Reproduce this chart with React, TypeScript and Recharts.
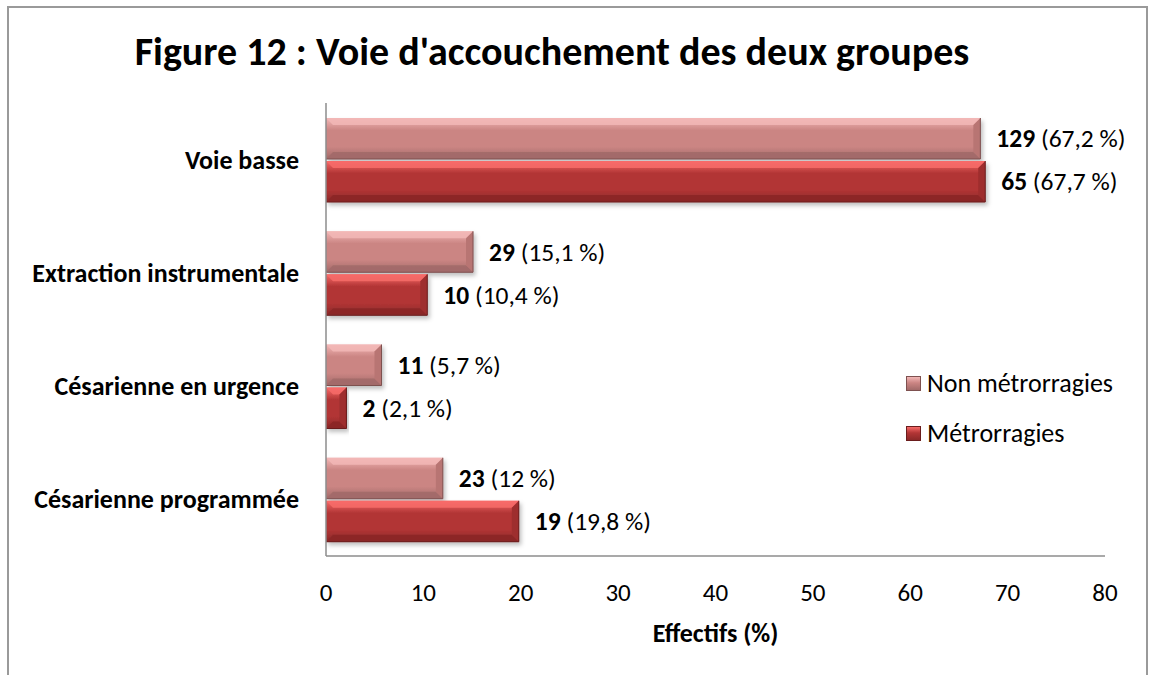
import React from "react";
import { BarChart, Bar, XAxis, YAxis, LabelList } from "recharts";

const categories = ["Voie basse", "Extraction instrumentale", "Césarienne en urgence", "Césarienne programmée"];
const nonMetroCounts = [129, 29, 11, 23];
const nonMetroPct = [67.2, 15.1, 5.7, 12];
const metroCounts = [65, 10, 2, 19];
const metroPct = [67.7, 10.4, 2.1, 19.8];
const xTicks = [0, 10, 20, 30, 40, 50, 60, 70, 80];
const seriesNames = ["Non métrorragies", "Métrorragies"];

const data = categories.map((name, i) => ({
  name,
  nonMetro: nonMetroPct[i],
  metro: metroPct[i],
}));

const FONT = "Carlito, Lato, 'Open Sans', sans-serif";

const palettes: Record<string, { top: string; main: string; bottom: string; edge: string; side: string }> = {
  nonMetro: { top: "#F2B7B6", main: "#CB8583", bottom: "#A26A69", edge: "#7E5150", side: "#B87573" },
  metro: { top: "#F76B69", main: "#B23535", bottom: "#8B2828", edge: "#6A1D1D", side: "#9E2E2E" },
};

const fmt = (v: number) => String(v).replace(".", ",");

function makeShape(key: string) {
  return (props: any) => {
    const { x, y, width, height } = props;
    if (!width || width <= 0) return <g />;
    const p = palettes[key];
    const b = Math.min(7, width / 2);
    return (
      <g filter="url(#barShadow)">
        <rect x={x} y={y} width={width} height={height} fill={`url(#grad-${key})`} />
        <polygon points={`${x},${y} ${x + width},${y} ${x + width - b},${y + b} ${x + b},${y + b}`} fill={p.top} opacity={0.85} />
        <polygon points={`${x},${y + height} ${x + width},${y + height} ${x + width - b},${y + height - b} ${x + b},${y + height - b}`} fill={p.bottom} opacity={0.9} />
        <polygon points={`${x + width - b},${y + b} ${x + width},${y} ${x + width},${y + height} ${x + width - b},${y + height - b}`} fill={p.side} />
        <line x1={x} y1={y + height} x2={x + width} y2={y + height} stroke={p.edge} strokeWidth={1} />
        <line x1={x + width} y1={y} x2={x + width} y2={y + height} stroke={p.edge} strokeWidth={1} />
      </g>
    );
  };
}

function makeLabel(counts: number[], pcts: number[]) {
  return (props: any) => {
    const { x, y, width, height, index } = props;
    return (
      <text x={x + width + 16} y={y + height / 2} dy="0.35em" fontFamily={FONT} fontSize={25.5} fill="#000">
        <tspan fontWeight="bold">{counts[index]}</tspan>
        <tspan> ({fmt(pcts[index])} %)</tspan>
      </text>
    );
  };
}

const XTick = (props: any) => {
  const { x, y, payload } = props;
  return (
    <text x={x} y={y} dy="0.35em" textAnchor="middle" fontFamily={FONT} fontSize={25} fill="#000">
      {payload.value}
    </text>
  );
};

const YTick = (props: any) => {
  const { x, y, payload } = props;
  return (
    <text x={x} y={y} dy="0.35em" textAnchor="end" fontFamily={FONT} fontSize={26} fontWeight="bold" fill="#000">
      {payload.value}
    </text>
  );
};

export default function App() {
  return (
    <div style={{ position: "absolute", left: 0, top: 0, width: 1149, height: 675, background: "#fff", overflow: "hidden" }}>
      <div
        style={{
          position: "absolute",
          left: 7,
          top: 6,
          width: 1137,
          height: 700,
          borderTop: "2px solid #9a9a9a",
          borderLeft: "2px solid #9a9a9a",
          borderRight: "2px solid #9a9a9a",
        }}
      />
      <div
        style={{
          position: "absolute",
          left: 0,
          top: 27,
          width: 1104,
          textAlign: "center",
          fontFamily: FONT,
          fontWeight: "bold",
          fontSize: 40,
          lineHeight: "50px",
          color: "#000",
          whiteSpace: "nowrap",
        }}
      >
        Figure 12 : Voie d'accouchement des deux groupes
      </div>
      <div style={{ position: "absolute", left: 0, top: 0 }}>
        <BarChart
          width={1149}
          height={675}
          data={data}
          layout="vertical"
          margin={{ top: 103, right: 44, bottom: 89, left: 26 }}
          barSize={41}
          barGap={2}
        >
          <defs>
            {Object.keys(palettes).map((k) => (
              <linearGradient key={k} id={`grad-${k}`} x1="0" y1="0" x2="0" y2="1">
                <stop offset="0" stopColor={palettes[k].top} />
                <stop offset="0.3" stopColor={palettes[k].main} />
                <stop offset="0.7" stopColor={palettes[k].main} />
                <stop offset="1" stopColor={palettes[k].bottom} />
              </linearGradient>
            ))}
            <filter id="barShadow" x="-5%" y="-20%" width="115%" height="160%">
              <feDropShadow dx="2" dy="3" stdDeviation="2" floodColor="#000" floodOpacity="0.25" />
            </filter>
          </defs>
          <XAxis
            type="number"
            domain={[0, 80]}
            ticks={xTicks}
            interval={0}
            tickLine={false}
            axisLine={{ stroke: "#8c8c8c", strokeWidth: 1.5 }}
            tick={<XTick />}
            tickMargin={30}
            height={30}
          />
          <YAxis
            type="category"
            dataKey="name"
            width={300}
            tickLine={false}
            axisLine={{ stroke: "#8c8c8c", strokeWidth: 1.5 }}
            tick={<YTick />}
            tickMargin={21}
          />
          <Bar dataKey="nonMetro" name={seriesNames[0]} isAnimationActive={false} shape={makeShape("nonMetro")}>
            <LabelList dataKey="nonMetro" content={makeLabel(nonMetroCounts, nonMetroPct)} />
          </Bar>
          <Bar dataKey="metro" name={seriesNames[1]} isAnimationActive={false} shape={makeShape("metro")}>
            <LabelList dataKey="metro" content={makeLabel(metroCounts, metroPct)} />
          </Bar>
        </BarChart>
      </div>
      <div style={{ position: "absolute", left: 906, top: 368, fontFamily: FONT, fontSize: 26, lineHeight: "30px", color: "#000" }}>
        {seriesNames.map((n, i) => {
          const p = palettes[i === 0 ? "nonMetro" : "metro"];
          return (
            <div key={n} style={{ display: "flex", alignItems: "center", height: 30, marginBottom: 20, whiteSpace: "nowrap" }}>
              <span
                style={{
                  display: "inline-block",
                  width: 15,
                  height: 15,
                  marginRight: 6,
                  background: `linear-gradient(${p.top}, ${p.main} 45%, ${p.bottom})`,
                  border: `1px solid ${p.edge}`,
                  boxSizing: "border-box",
                }}
              />
              <span>{n}</span>
            </div>
          );
        })}
      </div>
      <div
        style={{
          position: "absolute",
          left: 326,
          top: 617,
          width: 779,
          textAlign: "center",
          fontFamily: FONT,
          fontWeight: "bold",
          fontSize: 26,
          lineHeight: "32px",
          color: "#000",
        }}
      >
        Effectifs (%)
      </div>
    </div>
  );
}
